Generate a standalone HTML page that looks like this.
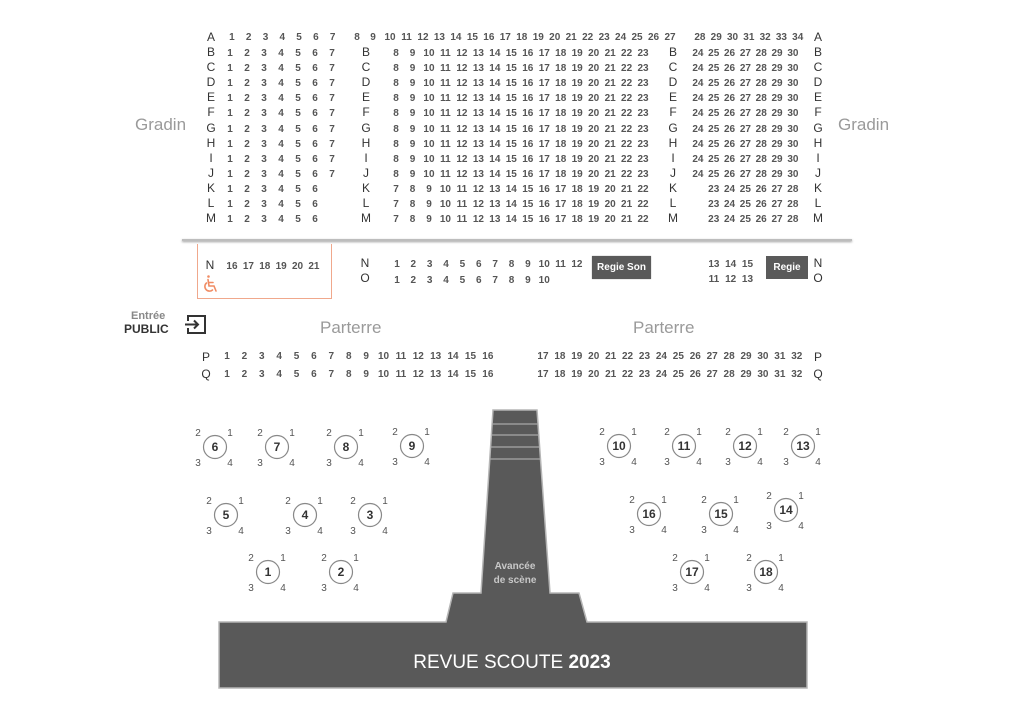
<!DOCTYPE html>
<html><head><meta charset="utf-8">
<style>
body{margin:0;width:1024px;height:724px;background:#fff;position:relative;overflow:hidden;font-family:"Liberation Sans",sans-serif}
.r{position:absolute;display:flex;font-weight:bold;font-size:10px;color:#555;line-height:14px;height:14px}
.r i{font-style:normal;text-align:center;flex:none}
.L{position:absolute;font-size:12px;color:#333;line-height:15.1px;width:16px;text-align:center;margin-left:-8px}
.g{position:absolute;font-size:17px;color:#9a9a9a}
svg{position:absolute;left:0;top:0}
.lb i{width:17px}.mb i{width:16.47px}.rb i{width:15.83px}
</style></head><body>

<div class="g" style="left:135px;top:115px">Gradin</div>
<div class="g" style="left:838px;top:115px">Gradin</div>

<div class="L" style="left:211px;top:30px">A<br>B<br>C<br>D<br>E<br>F<br>G<br>H<br>I<br>J<br>K<br>L<br>M</div>
<div class="L" style="left:366px;top:45.1px">B<br>C<br>D<br>E<br>F<br>G<br>H<br>I<br>J<br>K<br>L<br>M</div>
<div class="L" style="left:673px;top:45.1px">B<br>C<br>D<br>E<br>F<br>G<br>H<br>I<br>J<br>K<br>L<br>M</div>
<div class="L" style="left:818px;top:30px">A<br>B<br>C<br>D<br>E<br>F<br>G<br>H<br>I<br>J<br>K<br>L<br>M</div>

<div class="r" style="left:223.5px;top:31px"><i style="width:16.8px">1</i><i style="width:16.8px">2</i><i style="width:16.8px">3</i><i style="width:16.8px">4</i><i style="width:16.8px">5</i><i style="width:16.8px">6</i><i style="width:16.8px">7</i></div>
<div class="r" style="left:349px;top:31px"><i style="width:16px">8</i><i style="width:16px">9</i></div>
<div class="r" style="left:381.8px;top:31px"><i style="width:16.47px">10</i><i style="width:16.47px">11</i><i style="width:16.47px">12</i><i style="width:16.47px">13</i><i style="width:16.47px">14</i><i style="width:16.47px">15</i><i style="width:16.47px">16</i><i style="width:16.47px">17</i><i style="width:16.47px">18</i><i style="width:16.47px">19</i><i style="width:16.47px">20</i><i style="width:16.47px">21</i><i style="width:16.47px">22</i><i style="width:16.47px">23</i><i style="width:16.47px">24</i><i style="width:16.47px">25</i><i style="width:16.47px">26</i><i style="width:16.47px">27</i></div>
<div class="r" style="left:691.8px;top:31px"><i style="width:16.3px">28</i><i style="width:16.3px">29</i><i style="width:16.3px">30</i><i style="width:16.3px">31</i><i style="width:16.3px">32</i><i style="width:16.3px">33</i><i style="width:16.3px">34</i></div>

<div class="r lb" style="left:221.5px;top:47px"><i>1</i><i>2</i><i>3</i><i>4</i><i>5</i><i>6</i><i>7</i></div>
<div class="r lb" style="left:221.5px;top:62.1px"><i>1</i><i>2</i><i>3</i><i>4</i><i>5</i><i>6</i><i>7</i></div>
<div class="r lb" style="left:221.5px;top:77.2px"><i>1</i><i>2</i><i>3</i><i>4</i><i>5</i><i>6</i><i>7</i></div>
<div class="r lb" style="left:221.5px;top:92.3px"><i>1</i><i>2</i><i>3</i><i>4</i><i>5</i><i>6</i><i>7</i></div>
<div class="r lb" style="left:221.5px;top:107.4px"><i>1</i><i>2</i><i>3</i><i>4</i><i>5</i><i>6</i><i>7</i></div>
<div class="r lb" style="left:221.5px;top:122.5px"><i>1</i><i>2</i><i>3</i><i>4</i><i>5</i><i>6</i><i>7</i></div>
<div class="r lb" style="left:221.5px;top:137.6px"><i>1</i><i>2</i><i>3</i><i>4</i><i>5</i><i>6</i><i>7</i></div>
<div class="r lb" style="left:221.5px;top:152.7px"><i>1</i><i>2</i><i>3</i><i>4</i><i>5</i><i>6</i><i>7</i></div>
<div class="r lb" style="left:221.5px;top:167.8px"><i>1</i><i>2</i><i>3</i><i>4</i><i>5</i><i>6</i><i>7</i></div>
<div class="r lb" style="left:221.5px;top:182.9px"><i>1</i><i>2</i><i>3</i><i>4</i><i>5</i><i>6</i></div>
<div class="r lb" style="left:221.5px;top:198px"><i>1</i><i>2</i><i>3</i><i>4</i><i>5</i><i>6</i></div>
<div class="r lb" style="left:221.5px;top:213.1px"><i>1</i><i>2</i><i>3</i><i>4</i><i>5</i><i>6</i></div>

<div class="r mb" style="left:387.8px;top:47px"><i>8</i><i>9</i><i>10</i><i>11</i><i>12</i><i>13</i><i>14</i><i>15</i><i>16</i><i>17</i><i>18</i><i>19</i><i>20</i><i>21</i><i>22</i><i>23</i></div>
<div class="r mb" style="left:387.8px;top:62.1px"><i>8</i><i>9</i><i>10</i><i>11</i><i>12</i><i>13</i><i>14</i><i>15</i><i>16</i><i>17</i><i>18</i><i>19</i><i>20</i><i>21</i><i>22</i><i>23</i></div>
<div class="r mb" style="left:387.8px;top:77.2px"><i>8</i><i>9</i><i>10</i><i>11</i><i>12</i><i>13</i><i>14</i><i>15</i><i>16</i><i>17</i><i>18</i><i>19</i><i>20</i><i>21</i><i>22</i><i>23</i></div>
<div class="r mb" style="left:387.8px;top:92.3px"><i>8</i><i>9</i><i>10</i><i>11</i><i>12</i><i>13</i><i>14</i><i>15</i><i>16</i><i>17</i><i>18</i><i>19</i><i>20</i><i>21</i><i>22</i><i>23</i></div>
<div class="r mb" style="left:387.8px;top:107.4px"><i>8</i><i>9</i><i>10</i><i>11</i><i>12</i><i>13</i><i>14</i><i>15</i><i>16</i><i>17</i><i>18</i><i>19</i><i>20</i><i>21</i><i>22</i><i>23</i></div>
<div class="r mb" style="left:387.8px;top:122.5px"><i>8</i><i>9</i><i>10</i><i>11</i><i>12</i><i>13</i><i>14</i><i>15</i><i>16</i><i>17</i><i>18</i><i>19</i><i>20</i><i>21</i><i>22</i><i>23</i></div>
<div class="r mb" style="left:387.8px;top:137.6px"><i>8</i><i>9</i><i>10</i><i>11</i><i>12</i><i>13</i><i>14</i><i>15</i><i>16</i><i>17</i><i>18</i><i>19</i><i>20</i><i>21</i><i>22</i><i>23</i></div>
<div class="r mb" style="left:387.8px;top:152.7px"><i>8</i><i>9</i><i>10</i><i>11</i><i>12</i><i>13</i><i>14</i><i>15</i><i>16</i><i>17</i><i>18</i><i>19</i><i>20</i><i>21</i><i>22</i><i>23</i></div>
<div class="r mb" style="left:387.8px;top:167.8px"><i>8</i><i>9</i><i>10</i><i>11</i><i>12</i><i>13</i><i>14</i><i>15</i><i>16</i><i>17</i><i>18</i><i>19</i><i>20</i><i>21</i><i>22</i><i>23</i></div>
<div class="r mb" style="left:387.8px;top:182.9px"><i>7</i><i>8</i><i>9</i><i>10</i><i>11</i><i>12</i><i>13</i><i>14</i><i>15</i><i>16</i><i>17</i><i>18</i><i>19</i><i>20</i><i>21</i><i>22</i></div>
<div class="r mb" style="left:387.8px;top:198px"><i>7</i><i>8</i><i>9</i><i>10</i><i>11</i><i>12</i><i>13</i><i>14</i><i>15</i><i>16</i><i>17</i><i>18</i><i>19</i><i>20</i><i>21</i><i>22</i></div>
<div class="r mb" style="left:387.8px;top:213.1px"><i>7</i><i>8</i><i>9</i><i>10</i><i>11</i><i>12</i><i>13</i><i>14</i><i>15</i><i>16</i><i>17</i><i>18</i><i>19</i><i>20</i><i>21</i><i>22</i></div>

<div class="r rb" style="left:690px;top:47px"><i>24</i><i>25</i><i>26</i><i>27</i><i>28</i><i>29</i><i>30</i></div>
<div class="r rb" style="left:690px;top:62.1px"><i>24</i><i>25</i><i>26</i><i>27</i><i>28</i><i>29</i><i>30</i></div>
<div class="r rb" style="left:690px;top:77.2px"><i>24</i><i>25</i><i>26</i><i>27</i><i>28</i><i>29</i><i>30</i></div>
<div class="r rb" style="left:690px;top:92.3px"><i>24</i><i>25</i><i>26</i><i>27</i><i>28</i><i>29</i><i>30</i></div>
<div class="r rb" style="left:690px;top:107.4px"><i>24</i><i>25</i><i>26</i><i>27</i><i>28</i><i>29</i><i>30</i></div>
<div class="r rb" style="left:690px;top:122.5px"><i>24</i><i>25</i><i>26</i><i>27</i><i>28</i><i>29</i><i>30</i></div>
<div class="r rb" style="left:690px;top:137.6px"><i>24</i><i>25</i><i>26</i><i>27</i><i>28</i><i>29</i><i>30</i></div>
<div class="r rb" style="left:690px;top:152.7px"><i>24</i><i>25</i><i>26</i><i>27</i><i>28</i><i>29</i><i>30</i></div>
<div class="r rb" style="left:690px;top:167.8px"><i>24</i><i>25</i><i>26</i><i>27</i><i>28</i><i>29</i><i>30</i></div>
<div class="r rb" style="left:705.8px;top:182.9px"><i>23</i><i>24</i><i>25</i><i>26</i><i>27</i><i>28</i></div>
<div class="r rb" style="left:705.8px;top:198px"><i>23</i><i>24</i><i>25</i><i>26</i><i>27</i><i>28</i></div>
<div class="r rb" style="left:705.8px;top:213.1px"><i>23</i><i>24</i><i>25</i><i>26</i><i>27</i><i>28</i></div>

<div style="position:absolute;left:182px;top:239px;width:670px;height:2px;background:#bdbdbd;box-shadow:0 1px 2px #999"></div>

<div style="position:absolute;left:197px;top:244px;width:133px;height:54px;border:1px solid #f0a88c;border-top:none"></div>
<div class="L" style="left:210px;top:258px">N</div>
<div class="r" style="left:223.8px;top:260px"><i style="width:16.4px">16</i><i style="width:16.4px">17</i><i style="width:16.4px">18</i><i style="width:16.4px">19</i><i style="width:16.4px">20</i><i style="width:16.4px">21</i></div>

<div class="L" style="left:365px;top:256px">N<br>O</div>
<div class="r" style="left:388.8px;top:258px"><i style="width:16.36px">1</i><i style="width:16.36px">2</i><i style="width:16.36px">3</i><i style="width:16.36px">4</i><i style="width:16.36px">5</i><i style="width:16.36px">6</i><i style="width:16.36px">7</i><i style="width:16.36px">8</i><i style="width:16.36px">9</i><i style="width:16.36px">10</i><i style="width:16.36px">11</i><i style="width:16.36px">12</i></div>
<div class="r" style="left:388.8px;top:274px"><i style="width:16.36px">1</i><i style="width:16.36px">2</i><i style="width:16.36px">3</i><i style="width:16.36px">4</i><i style="width:16.36px">5</i><i style="width:16.36px">6</i><i style="width:16.36px">7</i><i style="width:16.36px">8</i><i style="width:16.36px">9</i><i style="width:16.36px">10</i></div>
<div style="position:absolute;left:592px;top:256px;width:59px;height:23px;background:#5a5a5a;color:#fff;font-size:10px;font-weight:bold;line-height:23px;text-align:center;box-shadow:0 0 1px #999">Regie Son</div>
<div class="r" style="left:705.5px;top:258px"><i style="width:16.8px">13</i><i style="width:16.8px">14</i><i style="width:16.8px">15</i></div>
<div class="r" style="left:705.5px;top:273px"><i style="width:16.8px">11</i><i style="width:16.8px">12</i><i style="width:16.8px">13</i></div>
<div style="position:absolute;left:766px;top:256px;width:42px;height:23px;background:#5a5a5a;color:#fff;font-size:10px;font-weight:bold;line-height:23px;text-align:center">Regie</div>
<div class="L" style="left:818px;top:256px">N<br>O</div>

<div style="position:absolute;left:131px;top:310px;font-size:11px;color:#888;font-weight:bold">Entrée</div>
<div style="position:absolute;left:124px;top:322px;font-size:12px;color:#333;font-weight:bold">PUBLIC</div>
<div class="g" style="left:320px;top:318px">Parterre</div>
<div class="g" style="left:633px;top:318px">Parterre</div>

<div class="L" style="left:206px;top:349px;line-height:17px">P<br>Q</div>
<div class="r" style="left:218.3px;top:350px"><i style="width:17.4px">1</i><i style="width:17.4px">2</i><i style="width:17.4px">3</i><i style="width:17.4px">4</i><i style="width:17.4px">5</i><i style="width:17.4px">6</i><i style="width:17.4px">7</i><i style="width:17.4px">8</i><i style="width:17.4px">9</i><i style="width:17.4px">10</i><i style="width:17.4px">11</i><i style="width:17.4px">12</i><i style="width:17.4px">13</i><i style="width:17.4px">14</i><i style="width:17.4px">15</i><i style="width:17.4px">16</i></div>
<div class="r" style="left:218.3px;top:368px"><i style="width:17.4px">1</i><i style="width:17.4px">2</i><i style="width:17.4px">3</i><i style="width:17.4px">4</i><i style="width:17.4px">5</i><i style="width:17.4px">6</i><i style="width:17.4px">7</i><i style="width:17.4px">8</i><i style="width:17.4px">9</i><i style="width:17.4px">10</i><i style="width:17.4px">11</i><i style="width:17.4px">12</i><i style="width:17.4px">13</i><i style="width:17.4px">14</i><i style="width:17.4px">15</i><i style="width:17.4px">16</i></div>
<div class="r" style="left:534.5px;top:350px"><i style="width:16.93px">17</i><i style="width:16.93px">18</i><i style="width:16.93px">19</i><i style="width:16.93px">20</i><i style="width:16.93px">21</i><i style="width:16.93px">22</i><i style="width:16.93px">23</i><i style="width:16.93px">24</i><i style="width:16.93px">25</i><i style="width:16.93px">26</i><i style="width:16.93px">27</i><i style="width:16.93px">28</i><i style="width:16.93px">29</i><i style="width:16.93px">30</i><i style="width:16.93px">31</i><i style="width:16.93px">32</i></div>
<div class="r" style="left:534.5px;top:368px"><i style="width:16.93px">17</i><i style="width:16.93px">18</i><i style="width:16.93px">19</i><i style="width:16.93px">20</i><i style="width:16.93px">21</i><i style="width:16.93px">22</i><i style="width:16.93px">23</i><i style="width:16.93px">24</i><i style="width:16.93px">25</i><i style="width:16.93px">26</i><i style="width:16.93px">27</i><i style="width:16.93px">28</i><i style="width:16.93px">29</i><i style="width:16.93px">30</i><i style="width:16.93px">31</i><i style="width:16.93px">32</i></div>
<div class="L" style="left:818px;top:349px;line-height:17px">P<br>Q</div>

<svg width="1024" height="724" viewBox="0 0 1024 724" font-family="Liberation Sans, sans-serif">
<defs>
<style>
.t circle{fill:#fff;stroke:#888;stroke-width:1.2}
.t .n{font-size:12px;font-weight:bold;fill:#333;text-anchor:middle}
.t .s{font-size:10px;fill:#555;text-anchor:middle}
</style>
</defs>
<!-- wheelchair -->
<g fill="none" stroke="#f08c64" stroke-width="1.6" stroke-linecap="round">
<circle cx="208.5" cy="276.5" r="1.3" fill="#f08c64" stroke="none"/>
<path d="M208 279.5 L209 286 H214 L216 291"/>
<path d="M209 282.5 H213"/>
<path d="M206.5 283 A4.3 4.3 0 1 0 212.5 290"/>
</g>
<!-- entry icon -->
<g fill="none" stroke="#333" stroke-width="2">
<path d="M188 321 V316 H205 V333 H188 V328"/>
<path d="M185 324.5 H198 M194 320.5 L198 324.5 L194 328.5"/>
</g>
<!-- stage -->
<polygon points="493,410 537,410 550,593 579,593 587,622 807,622 807,688 219,688 219,622 446,622 453,593 481,593" fill="#595959" stroke="#b5b5b5" stroke-width="1.5"/>
<g stroke="#a8a8a8" stroke-width="1.2">
<line x1="492" y1="424" x2="538" y2="424"/>
<line x1="492" y1="435" x2="539" y2="435"/>
<line x1="491" y1="447" x2="539" y2="447"/>
<line x1="490" y1="459" x2="540" y2="459"/>
</g>
<text x="515" y="569" font-size="10" font-weight="bold" fill="#c8c8c8" text-anchor="middle">Avancée</text>
<text x="515" y="583" font-size="10" font-weight="bold" fill="#c8c8c8" text-anchor="middle">de scène</text>
<text x="512" y="668" font-size="19" fill="#fff" text-anchor="middle">REVUE SCOUTE <tspan font-weight="bold">2023</tspan></text>

<g class="t" transform="translate(215,447)"><circle r="11.5"/><text class="n" y="4">6</text><text class="s" x="-17" y="-11">2</text><text class="s" x="15" y="-11">1</text><text class="s" x="-17" y="19">3</text><text class="s" x="15" y="19">4</text></g>
<g class="t" transform="translate(277,447)"><circle r="11.5"/><text class="n" y="4">7</text><text class="s" x="-17" y="-11">2</text><text class="s" x="15" y="-11">1</text><text class="s" x="-17" y="19">3</text><text class="s" x="15" y="19">4</text></g>
<g class="t" transform="translate(346,447)"><circle r="11.5"/><text class="n" y="4">8</text><text class="s" x="-17" y="-11">2</text><text class="s" x="15" y="-11">1</text><text class="s" x="-17" y="19">3</text><text class="s" x="15" y="19">4</text></g>
<g class="t" transform="translate(412,446)"><circle r="11.5"/><text class="n" y="4">9</text><text class="s" x="-17" y="-11">2</text><text class="s" x="15" y="-11">1</text><text class="s" x="-17" y="19">3</text><text class="s" x="15" y="19">4</text></g>
<g class="t" transform="translate(619,446)"><circle r="11.5"/><text class="n" y="4">10</text><text class="s" x="-17" y="-11">2</text><text class="s" x="15" y="-11">1</text><text class="s" x="-17" y="19">3</text><text class="s" x="15" y="19">4</text></g>
<g class="t" transform="translate(684,446)"><circle r="11.5"/><text class="n" y="4">11</text><text class="s" x="-17" y="-11">2</text><text class="s" x="15" y="-11">1</text><text class="s" x="-17" y="19">3</text><text class="s" x="15" y="19">4</text></g>
<g class="t" transform="translate(745,446)"><circle r="11.5"/><text class="n" y="4">12</text><text class="s" x="-17" y="-11">2</text><text class="s" x="15" y="-11">1</text><text class="s" x="-17" y="19">3</text><text class="s" x="15" y="19">4</text></g>
<g class="t" transform="translate(803,446)"><circle r="11.5"/><text class="n" y="4">13</text><text class="s" x="-17" y="-11">2</text><text class="s" x="15" y="-11">1</text><text class="s" x="-17" y="19">3</text><text class="s" x="15" y="19">4</text></g>
<g class="t" transform="translate(226,515)"><circle r="11.5"/><text class="n" y="4">5</text><text class="s" x="-17" y="-11">2</text><text class="s" x="15" y="-11">1</text><text class="s" x="-17" y="19">3</text><text class="s" x="15" y="19">4</text></g>
<g class="t" transform="translate(305,515)"><circle r="11.5"/><text class="n" y="4">4</text><text class="s" x="-17" y="-11">2</text><text class="s" x="15" y="-11">1</text><text class="s" x="-17" y="19">3</text><text class="s" x="15" y="19">4</text></g>
<g class="t" transform="translate(370,515)"><circle r="11.5"/><text class="n" y="4">3</text><text class="s" x="-17" y="-11">2</text><text class="s" x="15" y="-11">1</text><text class="s" x="-17" y="19">3</text><text class="s" x="15" y="19">4</text></g>
<g class="t" transform="translate(649,514)"><circle r="11.5"/><text class="n" y="4">16</text><text class="s" x="-17" y="-11">2</text><text class="s" x="15" y="-11">1</text><text class="s" x="-17" y="19">3</text><text class="s" x="15" y="19">4</text></g>
<g class="t" transform="translate(721,514)"><circle r="11.5"/><text class="n" y="4">15</text><text class="s" x="-17" y="-11">2</text><text class="s" x="15" y="-11">1</text><text class="s" x="-17" y="19">3</text><text class="s" x="15" y="19">4</text></g>
<g class="t" transform="translate(786,510)"><circle r="11.5"/><text class="n" y="4">14</text><text class="s" x="-17" y="-11">2</text><text class="s" x="15" y="-11">1</text><text class="s" x="-17" y="19">3</text><text class="s" x="15" y="19">4</text></g>
<g class="t" transform="translate(268,572)"><circle r="11.5"/><text class="n" y="4">1</text><text class="s" x="-17" y="-11">2</text><text class="s" x="15" y="-11">1</text><text class="s" x="-17" y="19">3</text><text class="s" x="15" y="19">4</text></g>
<g class="t" transform="translate(341,572)"><circle r="11.5"/><text class="n" y="4">2</text><text class="s" x="-17" y="-11">2</text><text class="s" x="15" y="-11">1</text><text class="s" x="-17" y="19">3</text><text class="s" x="15" y="19">4</text></g>
<g class="t" transform="translate(692,572)"><circle r="11.5"/><text class="n" y="4">17</text><text class="s" x="-17" y="-11">2</text><text class="s" x="15" y="-11">1</text><text class="s" x="-17" y="19">3</text><text class="s" x="15" y="19">4</text></g>
<g class="t" transform="translate(766,572)"><circle r="11.5"/><text class="n" y="4">18</text><text class="s" x="-17" y="-11">2</text><text class="s" x="15" y="-11">1</text><text class="s" x="-17" y="19">3</text><text class="s" x="15" y="19">4</text></g>
</svg>
</body></html>
